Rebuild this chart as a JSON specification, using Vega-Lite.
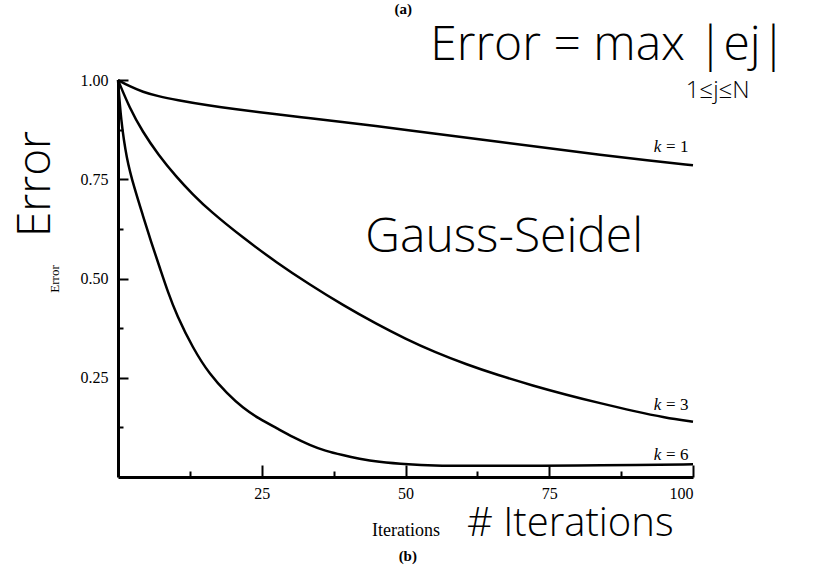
{
  "$schema": "https://vega.github.io/schema/vega-lite/v6.json",
  "width": 575,
  "height": 397,
  "autosize": {"type": "none"},
  "padding": {"left": 118, "top": 80, "right": 132, "bottom": 94},
  "background": "white",
  "config": {
    "view": {"stroke": null},
    "axis": {
      "domainColor": "black",
      "domainWidth": 3,
      "tickColor": "black",
      "tickWidth": 2,
      "grid": false,
      "labelFont": "Liberation Serif",
      "labelFontSize": 16,
      "labelColor": "black",
      "titleFont": "Liberation Serif",
      "titleFontWeight": "normal",
      "titleColor": "black"
    }
  },
  "datasets": {
    "curves": [
      {"k": "1", "iter": 0, "err": 1.0},
      {"k": "1", "iter": 2, "err": 0.984},
      {"k": "1", "iter": 4.3, "err": 0.97},
      {"k": "1", "iter": 7, "err": 0.959},
      {"k": "1", "iter": 10, "err": 0.95},
      {"k": "1", "iter": 16, "err": 0.935},
      {"k": "1", "iter": 20, "err": 0.927},
      {"k": "1", "iter": 27.6, "err": 0.914},
      {"k": "1", "iter": 33, "err": 0.904},
      {"k": "1", "iter": 39, "err": 0.894},
      {"k": "1", "iter": 45, "err": 0.884},
      {"k": "1", "iter": 50, "err": 0.874},
      {"k": "1", "iter": 58, "err": 0.86},
      {"k": "1", "iter": 66, "err": 0.845},
      {"k": "1", "iter": 75, "err": 0.828},
      {"k": "1", "iter": 84, "err": 0.811},
      {"k": "1", "iter": 92, "err": 0.798},
      {"k": "1", "iter": 100, "err": 0.785},
      {"k": "3", "iter": 0, "err": 1.0},
      {"k": "3", "iter": 2, "err": 0.93},
      {"k": "3", "iter": 4.3, "err": 0.869},
      {"k": "3", "iter": 7, "err": 0.812},
      {"k": "3", "iter": 10.2, "err": 0.755},
      {"k": "3", "iter": 13, "err": 0.712},
      {"k": "3", "iter": 16, "err": 0.67},
      {"k": "3", "iter": 21.7, "err": 0.603},
      {"k": "3", "iter": 27.6, "err": 0.54},
      {"k": "3", "iter": 33.4, "err": 0.484},
      {"k": "3", "iter": 39.1, "err": 0.433},
      {"k": "3", "iter": 45, "err": 0.385},
      {"k": "3", "iter": 50, "err": 0.348},
      {"k": "3", "iter": 55, "err": 0.315},
      {"k": "3", "iter": 60.7, "err": 0.283},
      {"k": "3", "iter": 66, "err": 0.257},
      {"k": "3", "iter": 72.2, "err": 0.23},
      {"k": "3", "iter": 78, "err": 0.207},
      {"k": "3", "iter": 83.8, "err": 0.186},
      {"k": "3", "iter": 90, "err": 0.165},
      {"k": "3", "iter": 95, "err": 0.15},
      {"k": "3", "iter": 100, "err": 0.139},
      {"k": "6", "iter": 0, "err": 1.0},
      {"k": "6", "iter": 0.5, "err": 0.9},
      {"k": "6", "iter": 1.5, "err": 0.8},
      {"k": "6", "iter": 2.8, "err": 0.73},
      {"k": "6", "iter": 4.3, "err": 0.66},
      {"k": "6", "iter": 5.8, "err": 0.59},
      {"k": "6", "iter": 7.3, "err": 0.526},
      {"k": "6", "iter": 8.7, "err": 0.465},
      {"k": "6", "iter": 10.2, "err": 0.408},
      {"k": "6", "iter": 13, "err": 0.325},
      {"k": "6", "iter": 16, "err": 0.257},
      {"k": "6", "iter": 19, "err": 0.21},
      {"k": "6", "iter": 21.7, "err": 0.174},
      {"k": "6", "iter": 24.5, "err": 0.147},
      {"k": "6", "iter": 27.6, "err": 0.123},
      {"k": "6", "iter": 30.5, "err": 0.1},
      {"k": "6", "iter": 33.4, "err": 0.08},
      {"k": "6", "iter": 36, "err": 0.066},
      {"k": "6", "iter": 39.1, "err": 0.055},
      {"k": "6", "iter": 42, "err": 0.046},
      {"k": "6", "iter": 45, "err": 0.038},
      {"k": "6", "iter": 50.8, "err": 0.031},
      {"k": "6", "iter": 55, "err": 0.029},
      {"k": "6", "iter": 60, "err": 0.028},
      {"k": "6", "iter": 70, "err": 0.028},
      {"k": "6", "iter": 80, "err": 0.029},
      {"k": "6", "iter": 90, "err": 0.03},
      {"k": "6", "iter": 100, "err": 0.032}
    ],
    "curveLabels": [
      {"label": "= 1", "iter": 99.2, "err": 0.819},
      {"label": "= 3", "iter": 99.2, "err": 0.169},
      {"label": "= 6", "iter": 99.2, "err": 0.043}
    ],
    "notes": [
      {"text": "Error = max |ej|", "iter": 54.3, "err": 1.05},
      {"text": "Gauss-Seidel", "iter": 43, "err": 0.567}
    ],
    "axisNotes": [
      {"text": "# Iterations", "iter": 60.7, "err": -0.148}
    ],
    "smallNotes": [
      {"text": "1≤j≤N", "iter": 104.3, "err": 0.955}
    ],
    "sideNotes": [
      {"text": "Error", "iter": -14.3, "err": 0.738}
    ],
    "captions": [
      {"text": "(a)", "iter": 49.6, "err": 1.166},
      {"text": "(b)", "iter": 50.4, "err": -0.212}
    ]
  },
  "layer": [
    {
      "data": {"name": "curves"},
      "mark": {"type": "line", "color": "black", "strokeWidth": 2.5, "interpolate": "basis"},
      "encoding": {
        "x": {
          "field": "iter", "type": "quantitative",
          "scale": {"domain": [0, 100], "nice": false},
          "axis": {
            "values": [12.5, 25, 37.5, 50, 62.5, 75, 87.5, 100],
            "labelExpr": "datum.value % 25 === 0 ? datum.value : ''",
            "tickSize": {"condition": {"test": "datum.value % 25 === 0", "value": -12}, "value": -6},
            "labelPadding": 20,
            "title": "Iterations",
            "titleFontSize": 18,
            "titlePadding": 20
          }
        },
        "y": {
          "field": "err", "type": "quantitative",
          "scale": {"domain": [0, 1], "nice": false},
          "axis": {
            "values": [0.125, 0.25, 0.375, 0.5, 0.625, 0.75, 0.875, 1],
            "labelExpr": "(datum.value * 4) % 1 === 0 ? format(datum.value, '.2f') : ''",
            "tickSize": {"condition": {"test": "(datum.value * 4) % 1 === 0", "value": -10}, "value": -5},
            "labelPadding": 20,
            "title": "Error",
            "titleFontSize": 13,
            "titlePadding": 19
          }
        },
        "detail": {"field": "k"}
      }
    },
    {
      "data": {"name": "curveLabels"},
      "mark": {"type": "text", "font": "Liberation Serif", "fontSize": 17, "align": "right", "baseline": "alphabetic", "color": "black"},
      "encoding": {
        "x": {"field": "iter", "type": "quantitative"},
        "y": {"field": "err", "type": "quantitative"},
        "text": {"field": "label"}
      }
    },
    {
      "data": {"name": "curveLabels"},
      "mark": {"type": "text", "text": "k", "font": "Liberation Serif", "fontStyle": "italic", "fontSize": 17, "align": "right", "baseline": "alphabetic", "dx": -27, "color": "black"},
      "encoding": {
        "x": {"field": "iter", "type": "quantitative"},
        "y": {"field": "err", "type": "quantitative"}
      }
    },
    {
      "data": {"name": "notes"},
      "mark": {"type": "text", "font": "Open Sans", "fontSize": 48, "fontWeight": 300, "align": "left", "baseline": "alphabetic", "color": "black"},
      "encoding": {
        "x": {"field": "iter", "type": "quantitative"},
        "y": {"field": "err", "type": "quantitative"},
        "text": {"field": "text"}
      }
    },
    {
      "data": {"name": "axisNotes"},
      "mark": {"type": "text", "font": "Open Sans", "fontSize": 40, "fontWeight": 300, "align": "left", "baseline": "alphabetic", "color": "black"},
      "encoding": {
        "x": {"field": "iter", "type": "quantitative"},
        "y": {"field": "err", "type": "quantitative"},
        "text": {"field": "text"}
      }
    },
    {
      "data": {"name": "smallNotes"},
      "mark": {"type": "text", "font": "Open Sans", "fontSize": 24, "fontWeight": 300, "align": "center", "baseline": "alphabetic", "color": "black"},
      "encoding": {
        "x": {"field": "iter", "type": "quantitative"},
        "y": {"field": "err", "type": "quantitative"},
        "text": {"field": "text"}
      }
    },
    {
      "data": {"name": "sideNotes"},
      "mark": {"type": "text", "font": "Open Sans", "fontSize": 46, "fontWeight": 300, "angle": 270, "align": "center", "baseline": "middle", "color": "black"},
      "encoding": {
        "x": {"field": "iter", "type": "quantitative"},
        "y": {"field": "err", "type": "quantitative"},
        "text": {"field": "text"}
      }
    },
    {
      "data": {"name": "captions"},
      "mark": {"type": "text", "font": "Liberation Serif", "fontSize": 15, "fontWeight": "bold", "align": "center", "baseline": "alphabetic", "color": "black"},
      "encoding": {
        "x": {"field": "iter", "type": "quantitative"},
        "y": {"field": "err", "type": "quantitative"},
        "text": {"field": "text"}
      }
    }
  ]
}
